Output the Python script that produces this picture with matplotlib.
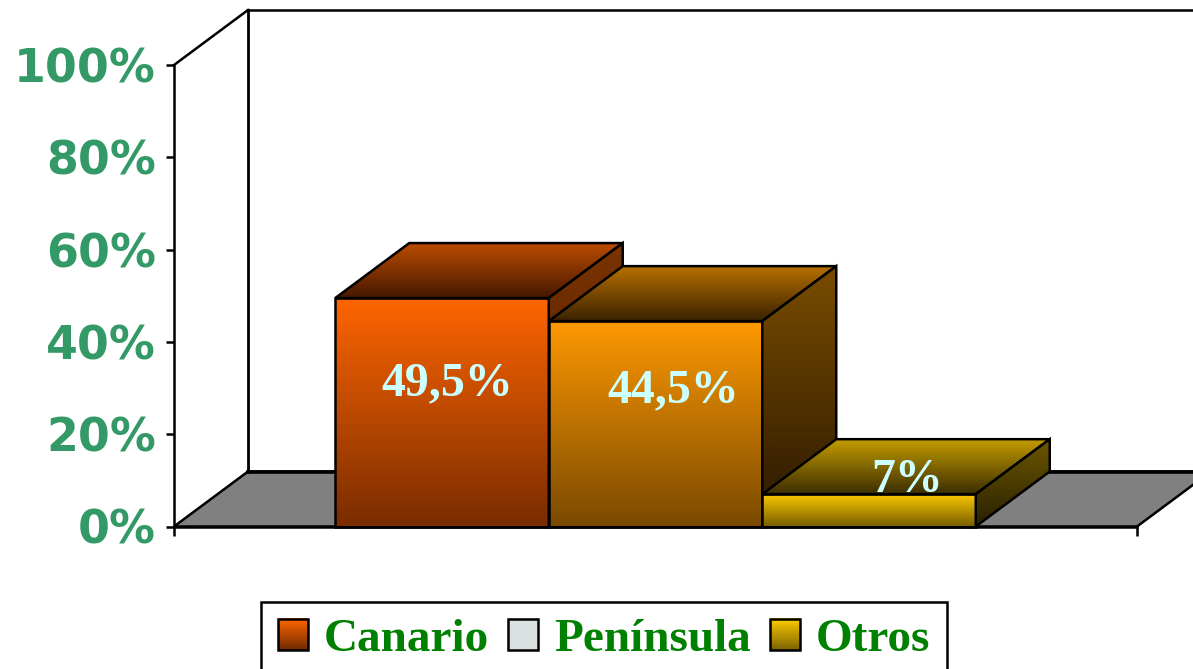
"""3D-style clustered bar chart: origen de los visitantes."""

import matplotlib

matplotlib.use("agg")

import matplotlib.pyplot as plt
import numpy as np
from matplotlib.colors import LinearSegmentedColormap, to_rgb
from matplotlib.legend_handler import HandlerBase
from matplotlib.patches import Patch, Polygon, Rectangle

# data
categories = ["Canario", "Península", "Otros"]
values = [49.5, 44.5, 7.0]
value_labels = ["49,5%", "44,5%", "7%"]
yticks = [0, 20, 40, 60, 80, 100]
ytick_labels = ["0%", "20%", "40%", "60%", "80%", "100%"]

# face colours (top of face, bottom of face)
front_colors = [("#ff6600", "#7a2c00"), ("#ff9900", "#7a4a00"), ("#ffcc00", "#7a6000")]
top_colors = [("#bc4c00", "#451800"), ("#b87000", "#3a2200"), ("#c49c00", "#3c2e00")]
side_colors = [("#7c3400", "#3a1400"), ("#7a4c00", "#2a1800"), ("#6e5800", "#2a2000")]
legend_colors = [("#ff6600", "#6e2800"), ("#d9e1e1", "#d9e1e1"), ("#ffcc00", "#7a6000")]
label_offsets = [(0.005, 3.75), (0.018, 4.75), (0.040, 4.0)]

# layout in pixels of the reference picture
W_PX, H_PX = 1193, 669
X0_PX, X1_PX = 174, 1137
Y0_PX, Y100_PX = 526.5, 65
DEPTH_PX = (74, 55)
BAR_PX = 213.5
LW = 1.8

ppx = X1_PX - X0_PX
ppy = (Y0_PX - Y100_PX) / 100.0
DX = DEPTH_PX[0] / ppx
DY = DEPTH_PX[1] / ppy
BAR_W = BAR_PX / ppx


def gradient_face(ax, verts, top, bottom, z):
    verts = np.asarray(verts, dtype=float)
    poly = Polygon(verts, closed=True, facecolor="none", edgecolor="black",
                   lw=LW, zorder=z + 1, joinstyle="miter")
    ax.add_patch(poly)
    cmap = LinearSegmentedColormap.from_list("face", [bottom, top])
    grad = np.linspace(0, 1, 256).reshape(-1, 1)
    extent = (verts[:, 0].min(), verts[:, 0].max(), verts[:, 1].min(), verts[:, 1].max())
    im = ax.imshow(grad, cmap=cmap, extent=extent, origin="lower", aspect="auto",
                   interpolation="bilinear", zorder=z)
    im.set_clip_path(poly)


class GradientSwatch(HandlerBase):
    def __init__(self, top, bottom, steps=30):
        super().__init__()
        self.top, self.bottom, self.steps = top, bottom, steps

    def create_artists(self, legend, orig_handle, xdescent, ydescent, width, height, fontsize, trans):
        c0 = np.array(to_rgb(self.bottom))
        c1 = np.array(to_rgb(self.top))
        h = height / self.steps
        arts = []
        for k in range(self.steps):
            t = (k + 0.5) / self.steps
            arts.append(Rectangle((-xdescent, -ydescent + k * h), width, h * 1.05,
                                  facecolor=c0 + (c1 - c0) * t, edgecolor="none", transform=trans))
        arts.append(Rectangle((-xdescent, -ydescent), width, height, facecolor="none",
                              edgecolor="black", lw=LW, transform=trans))
        return arts


fig = plt.figure(figsize=(W_PX / 100, H_PX / 100), dpi=100)
ax = fig.add_axes([0, 0, 1, 1])
ax.set_facecolor("white")

# floor and walls
floor = Polygon([(0, 0), (1, 0), (1 + DX, DY), (DX, DY)], closed=True,
                facecolor="#808080", edgecolor="black", lw=LW, zorder=1)
ax.add_patch(floor)
ax.plot([DX, DX], [DY, 100 + DY], color="black", lw=2.0, zorder=1.2)
ax.plot([DX, 1 + DX], [100 + DY, 100 + DY], color="black", lw=LW, zorder=1.2)
ax.plot([0, DX], [100, 100 + DY], color="black", lw=LW, zorder=1.2)
ax.plot([DX, 1 + DX], [DY, DY], color="black", lw=2.6, zorder=1.2)

# bars
for i, v in enumerate(values):
    x0 = 0.5 - 1.5 * BAR_W + i * BAR_W
    x1 = x0 + BAR_W
    z = 5 + i * 10
    gradient_face(ax, [(x0, 0), (x1, 0), (x1, v), (x0, v)], *front_colors[i], z)
    gradient_face(ax, [(x0, v), (x1, v), (x1 + DX, v + DY), (x0 + DX, v + DY)], *top_colors[i], z + 2)
    gradient_face(ax, [(x1, 0), (x1 + DX, DY), (x1 + DX, v + DY), (x1, v)], *side_colors[i], z + 4)
    ox, oy = label_offsets[i]
    ax.text(x0 + BAR_W / 2 + ox, v / 2 + oy, value_labels[i], ha="center", va="baseline",
            fontsize=34.5, fontweight="bold", family="Liberation Serif", color="#ccffff", zorder=z + 8)

# axes
ax.set_xlim(-X0_PX / ppx, (W_PX - X0_PX) / ppx)
ax.set_ylim(-(H_PX - Y0_PX) / ppy, Y0_PX / ppy)
for side in ("top", "right"):
    ax.spines[side].set_visible(False)
ax.spines["left"].set_position(("data", 0))
ax.spines["left"].set_bounds(0, 100)
ax.spines["bottom"].set_position(("data", 0))
ax.spines["bottom"].set_bounds(0, 1)
for side in ("left", "bottom"):
    ax.spines[side].set_linewidth(LW)
    ax.spines[side].set_zorder(2)
ax.set_yticks(yticks, ytick_labels)
ax.set_xticks([0, 1], ["", ""])
ax.tick_params(axis="y", direction="out", length=6, width=LW, pad=7,
               labelsize=33, labelcolor="#339966")
ax.tick_params(axis="x", direction="out", length=6.5, width=LW)
for lbl in ax.get_yticklabels():
    lbl.set_fontweight("bold")

# legend
handles = [Patch(label=c) for c in categories]
hmap = {h: GradientSwatch(*legend_colors[i]) for i, h in enumerate(handles)}
leg = fig.legend(handles=handles, handler_map=hmap, loc="upper left",
                 bbox_to_anchor=(261 / W_PX, 1 - 602 / H_PX), ncol=3, frameon=True,
                 fancybox=False, edgecolor="black", framealpha=1,
                 prop={"family": "Liberation Serif", "weight": "bold", "size": 34},
                 handlelength=0.64, handleheight=0.66, handletextpad=0.34,
                 columnspacing=0.4, borderpad=0.35, borderaxespad=0)
leg.get_frame().set_linewidth(LW)
for t in leg.get_texts():
    t.set_color("#008000")

fig.savefig("out.png", dpi=100)
